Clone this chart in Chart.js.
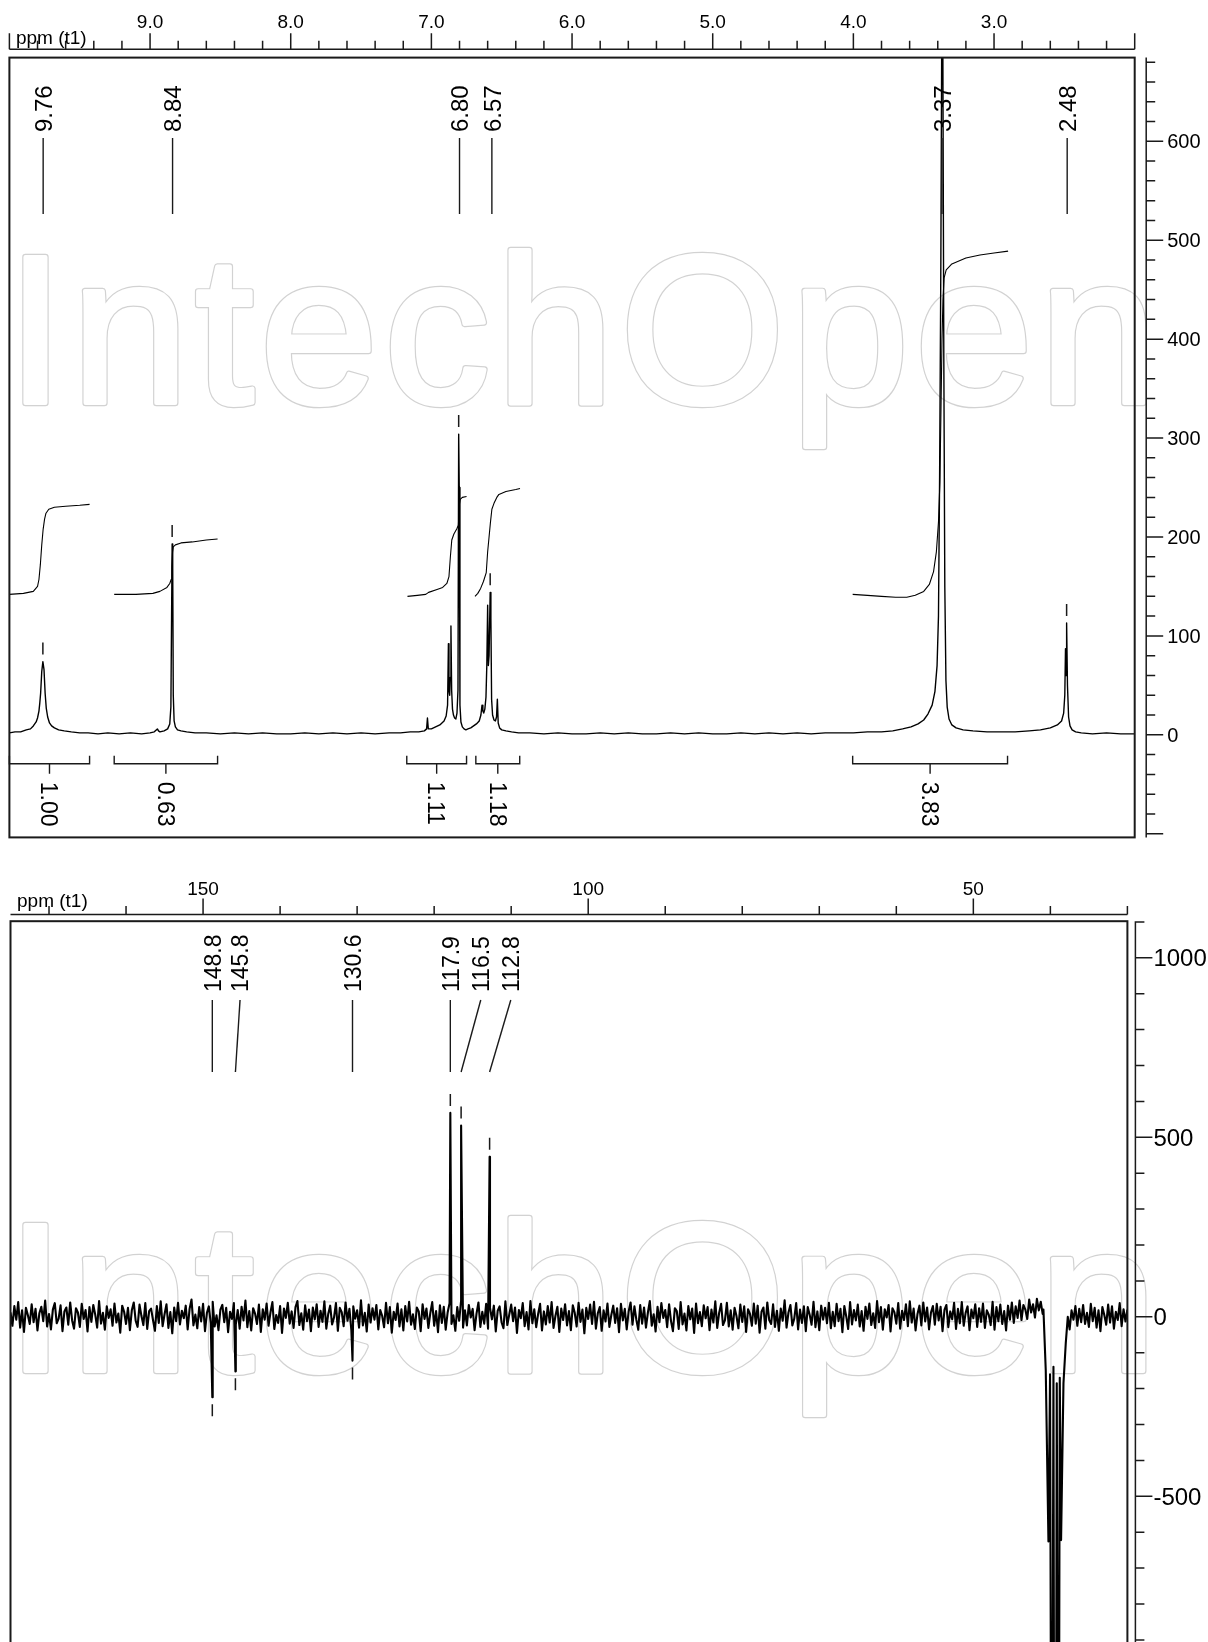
<!DOCTYPE html>
<html>
<head>
<meta charset="utf-8">
<script src="https://cdn.jsdelivr.net/npm/chart.js@4.4.1/dist/chart.umd.min.js"></script>
<style>
  html, body { margin: 0; padding: 0; background: #fff; overflow: hidden; }
  body { width: 1208px; height: 1642px; position: relative; }
  canvas { position: absolute; left: 0; }
  #h1 { top: 0; }
  #c13 { top: 880px; }
</style>
</head>
<body>
<canvas id="h1" width="1208" height="880"></canvas>
<canvas id="c13" width="1208" height="800"></canvas>
<script>
// ---------- 1H spectrum (ppm / intensity) ----------
const hPpm = [
  10.00, 9.96, 9.92, 9.88, 9.85, 9.83, 9.81, 9.80, 9.79, 9.784,
  9.778, 9.770, 9.762, 9.754, 9.746, 9.738, 9.728, 9.715, 9.70, 9.68,
  9.65, 9.61, 9.56, 9.50, 9.44, 9.37, 9.30, 9.22, 9.14, 9.06,
  9.00, 8.97, 8.948, 8.940, 8.93, 8.90, 8.875, 8.860, 8.852, 8.847,
  8.843, 8.839, 8.835, 8.829, 8.820, 8.805, 8.78, 8.74, 8.68, 8.60,
  8.50, 8.40, 8.30, 8.20, 8.10, 8.00, 7.90, 7.80, 7.70, 7.60,
  7.50, 7.40, 7.30, 7.22, 7.15, 7.09, 7.05, 7.034, 7.028, 7.022,
  7.00, 6.97, 6.94, 6.91, 6.895, 6.885, 6.879, 6.875, 6.870, 6.866,
  6.861, 6.856, 6.850, 6.843, 6.835, 6.826, 6.818, 6.811, 6.806, 6.802,
  6.797, 6.790, 6.780, 6.768, 6.755, 6.740, 6.720, 6.700, 6.680, 6.660,
  6.648, 6.640, 6.634, 6.628, 6.620, 6.612, 6.606, 6.600, 6.595, 6.590,
  6.582, 6.577, 6.572, 6.565, 6.555, 6.545, 6.537, 6.531, 6.525, 6.515,
  6.50, 6.47, 6.43, 6.38, 6.30, 6.20, 6.10, 6.00, 5.90, 5.80,
  5.70, 5.60, 5.50, 5.40, 5.30, 5.20, 5.10, 5.00, 4.90, 4.80,
  4.70, 4.60, 4.50, 4.40, 4.30, 4.20, 4.10, 4.00, 3.90, 3.80,
  3.72, 3.65, 3.59, 3.54, 3.50, 3.47, 3.44, 3.42, 3.405, 3.395,
  3.387, 3.378, 3.372, 3.368, 3.364, 3.357, 3.350, 3.342, 3.333, 3.320, 3.300,
  3.270, 3.220, 3.150, 3.05, 2.95, 2.85, 2.75, 2.67, 2.60, 2.55,
  2.52, 2.505, 2.497, 2.492, 2.488, 2.484, 2.478, 2.470, 2.460, 2.445,
  2.42, 2.38, 2.30, 2.20, 2.10, 2.00
];
const hInt = [
  2, 3, 3, 5, 6, 9, 13, 17, 24, 32,
  42, 64, 74, 66, 42, 27, 18, 12, 9, 7,
  5, 4, 3, 2, 2, 1, 2, 1, 2, 1,
  2, 3, 6, 4, 3, 4, 6, 11, 28, 120,
  193, 170, 40, 14, 8, 5, 4, 3, 2, 2,
  1, 2, 1, 2, 1, 1, 2, 1, 2, 1,
  2, 1, 2, 2, 3, 3, 4, 6, 17, 6,
  6, 8, 10, 14, 19, 30, 92, 45, 40, 58,
  110, 45, 26, 20, 17, 16, 22, 45, 304, 250,
  30, 13, 8, 6, 5, 6, 7, 9, 11, 14,
  20, 30, 24, 22, 26, 38, 70, 131, 70, 80,
  144, 118, 36, 20, 15, 14, 18, 36, 12, 7,
  5, 4, 3, 2, 2, 1, 2, 1, 1, 2,
  1, 2, 1, 1, 2, 1, 2, 1, 1, 2,
  1, 2, 1, 2, 1, 2, 2, 2, 3, 3,
  4, 6, 8, 11, 15, 21, 30, 44, 70, 120,
  260, 480, 700, 1800, 700, 380, 150, 55, 28, 16, 10,
  7, 5, 4, 3, 3, 3, 4, 5, 7, 10,
  14, 22, 40, 87, 60, 113, 50, 18, 9, 5,
  3, 2, 1, 2, 1, 1
];

// integral curves [ppm, value]
const hIntegral1 = [[10.0,142],[9.90,143],[9.83,145],[9.80,150],[9.79,157],[9.78,172],[9.77,192],[9.76,208],[9.75,218],[9.74,224],[9.72,228],[9.68,230],[9.60,231],[9.50,232],[9.43,233]];
const hIntegral2 = [[9.255,142],[9.10,142],[8.98,143],[8.93,145],[8.88,149],[8.86,153],[8.85,157],[8.845,170],[8.840,185],[8.835,190],[8.82,192],[8.78,194],[8.70,195],[8.60,197],[8.52,198]];
const hIntegral3 = [[7.17,140],[7.10,141],[7.04,142],[7.02,144],[6.96,147],[6.92,149],[6.89,153],[6.875,160],[6.865,180],[6.855,197],[6.84,203],[6.82,208],[6.808,212],[6.802,232],[6.795,238],[6.78,240],[6.75,241]];
const hIntegral4 = [[6.69,140],[6.67,143],[6.65,148],[6.63,155],[6.61,164],[6.60,185],[6.59,200],[6.58,215],[6.57,228],[6.555,234],[6.535,240],[6.52,243],[6.47,246],[6.40,248],[6.37,249]];
const hIntegral5 = [[4.005,142],[3.90,141],[3.80,140],[3.70,139],[3.62,139],[3.56,141],[3.50,145],[3.46,152],[3.43,165],[3.41,185],[3.395,215],[3.385,255],[3.378,320],[3.370,400],[3.363,440],[3.355,462],[3.34,470],[3.30,476],[3.20,482],[3.10,485],[3.00,487],[2.90,489]];

const hIntFrom = [10.0, 9.255, 7.175, 6.684, 4.005];
const hIntTo = [9.43, 8.52, 6.75, 6.372, 2.904];
const hIntLabels = ['1.00', '0.63', '1.11', '1.18', '3.83'];

const hPeakPpm = [9.76, 8.84, 6.80, 6.57, 3.37, 2.48];
const hPeakLabels = ['9.76', '8.84', '6.80', '6.57', '3.37', '2.48'];
const hMarkPpm = [9.762, 8.843, 6.806, 6.582, 2.484];
const hMarkInt = [74, 193, 304, 144, 113];

const hTickValues = [9, 8, 7, 6, 5, 4, 3];
const hTickLabels = ['9.0', '8.0', '7.0', '6.0', '5.0', '4.0', '3.0'];
const hYTicks = [0, 100, 200, 300, 400, 500, 600];
const hYLabels = ['0', '100', '200', '300', '400', '500', '600'];

// ---------- 13C DEPT spectrum ----------
const cStart = 175, cStep = 0.25;
const cNoise = [
  12,-25,30,-8,41,-30,18,-42,25,5,-20,35,-15,22,-38,10,28,-12,45,-27,
  8,-35,20,38,-18,-5,32,-40,15,26,-22,40,-10,-33,24,12,-28,36,-6,19,
  -41,27,-14,33,6,-30,44,-19,11,-36,29,-3,21,-25,37,-16,9,-44,31,14,
  -20,25,-37,18,40,-11,-28,34,2,-23,38,-34,16,23,-9,-39,30,-17,43,-26,
  7,35,-31,13,-46,26,-12,39,-21,17,-4,31,-35,22,48,-24,6,-32,27,-13,
  36,-40,11,29,-18,42,-27,4,-37,20,33,-15,25,-43,14,-6,38,-22,19,-33,
  28,-10,45,-29,16,-38,24,9,-20,34,-42,21,-8,37,-25,12,41,-34,5,-17,
  30,-45,23,-3,39,-19,15,-31,27,44,-23,10,-36,32,-12,20,-40,26,-7,35,
  -28,17,-14,43,-33,8,31,-21,-2,38,-39,25,13,-26,40,-11,22,-37,29,-5,
  18,-30,46,-24,11,-41,34,-16,24,-8,33,-35,19,3,-29,39,-18,27,-44,14,
  -9,37,-27,21,-38,30,-13,42,-22,7,-34,26,15,-40,35,-6,23,-31,10,41,
  -25,16,-43,32,-17,28,-36,12,38,-20,4,-39,27,-11,45,-30,18,-24,33,-2,
  22,-37,9,40,-28,14,-19,36,-33,25,-7,31,-41,17,29,-15,-32,43,-23,6,
  34,-12,26,-45,19,-4,38,-26,13,-35,44,-18,21,-29,8,36,-38,15,-21,30,
  -16,41,-31,3,28,-42,23,-9,35,-24,16,-37,32,11,-27,39,-14,20,-46,25,
  -6,34,-20,42,-33,10,27,-39,18,-13,37,-28,5,31,-17,24,-43,36,-10,22,
  -35,15,40,-22,29,-8,-36,33,-19,26,-30,12,44,-25,7,-41,28,-15,38,-3,
  19,-29,35,-12,-40,24,16,-34,41,-21,9,-38,30,-7,23,-45,37,-18,13,-26,
  32,-4,27,-37,20,-16,43,-31,11,36,-23,-10,39,-27,18,-36,25,2,-32,34,
  -14,29,-42,21,8,-25,37,-19,31,-44,14,26,-33,40,-9,-20,35,-28,17,-39,
  23,-11,46,-30,12,33,-24,-5,38,-35,20,-17,29,-40,27,6,-22,42,-29,15,
  -37,31,-8,25,-18,39,-32,14,-26,36,-12,22,-43,30,1,-34,41,-21,19,-10,
  34,-27,16,-39,28,-6,37,-23,10,-31,44,-15,27,-36,21,-2,33,-41,24,13,
  -19,38,-33,17,-9,35,-26,43,-16,23,-38,8,31,-24,40,-13,26,-35,12,30,
  -22,36,-10,28,-40,19,33,-29,15,-7,39,-34,22,-18,41,-25,11,29,-37,20,
  -4,35,-28,24,-14,37,-31,18,6,-23,42,-36,27,-12,34,-20,16,-38,31,-8,
  40,-17,29,-3,45,-9,33,20,-6,48,12,35,-2,50,18,42,8,55,25,38,
  10,5,8,0,12,6,-4,15,-10,20,-35,18,-8,30,-25,22,-15,33,-20,11,
  -28,36,-12,25,-30,18,-40,27,5,-22,34,-16,29,-33,14,-9,38,-26,21,-13,
  20
];
const cPeakPpm = [148.8, 145.8, 130.6, 117.9, 116.5, 112.8];
const cPeakInt = [-224, -152, -122, 568, 533, 446];
const cPeakLabels = ['148.8', '145.8', '130.6', '117.9', '116.5', '112.8'];
const cLabelPpm = [148.8, 145.2, 130.6, 117.9, 113.95, 110.05];

// DMSO-d6 multiplet
const cSolventPpm = [40.9, 40.6, 40.25, 40.04, 39.82, 39.6, 39.39, 39.17, 38.95, 38.78, 38.61, 38.3, 38.0, 37.74];
const cSolventInt = [20, -148, -626, -160, -2000, -139, -3000, -185, -2000, -170, -622, -185, -73, 0];

const cTickValues = [150, 100, 50];
const cTickLabels = ['150', '100', '50'];
const cYTicks = [1000, 500, 0, -500];
const cYLabels = ['1000', '500', '0', '-500'];

// ---------- drawing helpers ----------
const FONT = "'Liberation Sans', Arial, sans-serif";
const INK = '#1a1a1a';
Chart.defaults.font.family = FONT;

// outlined watermark, slightly emboldened by stroking a white core inside a grey ring
function drawWatermark(ctx, left, baseline, width) {
  const text = 'IntechOpen';
  const grow = 2.1;
  ctx.save();
  ctx.font = `212px ${FONT}`;
  ctx.letterSpacing = '0px';
  const m = ctx.measureText(text);
  const ink = m.actualBoundingBoxLeft + m.actualBoundingBoxRight;
  ctx.letterSpacing = ((width - 2 * grow - ink) / 9) + 'px';
  const x = left + grow + m.actualBoundingBoxLeft;
  ctx.lineJoin = 'round';
  ctx.strokeStyle = '#d2d2d2';
  ctx.lineWidth = 2 * grow + 2.4;
  ctx.strokeText(text, x, baseline);
  ctx.strokeStyle = '#fff';
  ctx.lineWidth = 2 * grow;
  ctx.strokeText(text, x, baseline);
  ctx.fillStyle = '#fff';
  ctx.fillText(text, x, baseline);
  ctx.restore();
}

function drawTopAxis(chart, o) {
  const {ctx, chartArea: a, scales: {x}} = chart;
  const y0 = a.top - o.gap;
  ctx.save();
  ctx.strokeStyle = INK;
  ctx.lineWidth = 1.5;
  ctx.beginPath();
  ctx.moveTo(a.left, y0);
  ctx.lineTo(a.right, y0);
  const n = Math.round((o.hi - o.lo) / o.minor);
  for (let i = 0; i <= n; i++) {
    const v = o.lo + i * o.minor;
    const major = Math.abs(v / o.major - Math.round(v / o.major)) < 1e-6;
    const px = x.getPixelForValue(v);
    ctx.moveTo(px, y0);
    ctx.lineTo(px, y0 - (major ? 16 : 8.5));
  }
  ctx.stroke();
  ctx.fillStyle = '#000';
  ctx.font = `19px ${FONT}`;
  ctx.textAlign = 'center';
  ctx.textBaseline = 'alphabetic';
  o.values.forEach((v, i) => ctx.fillText(o.labels[i], x.getPixelForValue(v), y0 - o.labelLift));
  ctx.textAlign = 'left';
  ctx.fillText('ppm (t1)', a.left + 6.5, y0 - o.unitLift);
  ctx.restore();
}

function drawRightAxis(chart, o) {
  const {ctx, chartArea: a, scales: {y}} = chart;
  const x0 = a.right + o.gap;
  ctx.save();
  ctx.strokeStyle = INK;
  ctx.lineWidth = 1.5;
  ctx.beginPath();
  ctx.moveTo(x0, a.top);
  ctx.lineTo(x0, a.bottom);
  const n = Math.round((o.hi - o.lo) / o.minor);
  for (let i = 0; i <= n; i++) {
    const v = o.lo + i * o.minor;
    const major = Math.abs(v / o.major - Math.round(v / o.major)) < 1e-6;
    const py = y.getPixelForValue(v);
    ctx.moveTo(x0, py);
    ctx.lineTo(x0 + (major ? 17 : 9), py);
  }
  ctx.stroke();
  ctx.fillStyle = '#000';
  ctx.font = `${o.size}px ${FONT}`;
  ctx.textAlign = 'left';
  ctx.textBaseline = 'alphabetic';
  o.values.forEach((v, i) => ctx.fillText(o.labels[i], x0 + o.labelGap, y.getPixelForValue(v) + o.size * 0.36));
  ctx.restore();
}

function drawMarks(chart, ppms, ints) {
  const {ctx, scales: {x, y}} = chart;
  ctx.save();
  ctx.strokeStyle = INK;
  ctx.lineWidth = 1.5;
  ctx.beginPath();
  ppms.forEach((p, i) => {
    const px = x.getPixelForValue(p);
    const py = y.getPixelForValue(ints[i]);
    const dir = ints[i] > 0 ? -1 : 1;
    ctx.moveTo(px, py + dir * 7);
    ctx.lineTo(px, py + dir * 19);
  });
  ctx.stroke();
  ctx.restore();
}

function drawPeakLabels(chart, o) {
  const {ctx, chartArea: a, scales: {x}} = chart;
  ctx.save();
  ctx.font = `${o.size}px ${FONT}`;
  ctx.fillStyle = '#000';
  ctx.strokeStyle = INK;
  ctx.lineWidth = 1.4;
  o.ppm.forEach((p, i) => {
    const xt = x.getPixelForValue(o.labelPpm[i]);
    const xb = x.getPixelForValue(p);
    ctx.save();
    ctx.translate(xt, a.top + o.textBottom);
    ctx.rotate(-Math.PI / 2);
    ctx.textAlign = 'left';
    ctx.textBaseline = 'alphabetic';
    ctx.fillText(o.labels[i], 0, o.size * 0.36);
    ctx.restore();
    ctx.beginPath();
    ctx.moveTo(xt, a.top + o.lineTop);
    ctx.lineTo(xb, a.top + o.lineBottom);
    ctx.stroke();
  });
  ctx.restore();
}

function drawIntegrals(chart) {
  const {ctx, scales: {x, y}} = chart;
  const base = y.getPixelForValue(0);
  const yl = base + 29;
  ctx.save();
  ctx.strokeStyle = INK;
  ctx.lineWidth = 1.4;
  ctx.fillStyle = '#000';
  ctx.font = `23px ${FONT}`;
  hIntFrom.forEach((f, i) => {
    const x1 = x.getPixelForValue(f);
    const x2 = x.getPixelForValue(hIntTo[i]);
    const xc = (x1 + x2) / 2;
    ctx.beginPath();
    ctx.moveTo(x1, base + 21);
    ctx.lineTo(x1, yl);
    ctx.lineTo(x2, yl);
    ctx.lineTo(x2, base + 21);
    ctx.moveTo(xc, yl);
    ctx.lineTo(xc, base + 39);
    ctx.stroke();
    ctx.save();
    ctx.translate(xc, base + 47);
    ctx.rotate(Math.PI / 2);
    ctx.fillText(hIntLabels[i], 0, 23 * 0.36);
    ctx.restore();
  });
  ctx.restore();
}

function decorPlugin(o) {
  return {
    id: 'decor',
    beforeDatasetsDraw(chart) {
      drawWatermark(chart.ctx, 23, o.wmBaseline, 1123);
    },
    afterDatasetsDraw(chart) {
      const {ctx, chartArea: a} = chart;
      ctx.save();
      ctx.strokeStyle = INK;
      ctx.lineWidth = 2;
      ctx.strokeRect(a.left, a.top, a.right - a.left, a.bottom - a.top);
      ctx.restore();
      drawTopAxis(chart, o.xAxis);
      drawRightAxis(chart, o.yAxis);
      drawMarks(chart, o.markPpm, o.markInt);
      drawPeakLabels(chart, o.peaks);
      if (o.integrals) drawIntegrals(chart);
    }
  };
}

const trace = (data, width) => ({
  data,
  showLine: true,
  borderColor: '#000',
  borderWidth: width,
  pointRadius: 0,
  tension: 0,
  fill: false,
  borderJoinStyle: 'round'
});

const baseOptions = (padding, xr, yr) => ({
  animation: false,
  responsive: false,
  events: [],
  layout: { padding },
  scales: {
    x: { type: 'linear', reverse: true, min: xr[0], max: xr[1], display: false },
    y: { type: 'linear', min: yr[0], max: yr[1], display: false }
  },
  plugins: { legend: { display: false }, tooltip: { enabled: false } }
});

// ---------- 1H chart ----------
const hTrace = hPpm.map((p, i) => ({ x: p, y: hInt[i] }));
const toXY = arr => arr.map(([p, v]) => ({ x: p, y: v }));

new Chart(document.getElementById('h1'), {
  type: 'scatter',
  data: {
    datasets: [
      trace(hTrace, 1.4),
      trace(toXY(hIntegral1), 1.1),
      trace(toXY(hIntegral2), 1.1),
      trace(toXY(hIntegral3), 1.1),
      trace(toXY(hIntegral4), 1.1),
      trace(toXY(hIntegral5), 1.1)
    ]
  },
  options: baseOptions({ left: 9.4, top: 57.6, right: 73.3, bottom: 42.6 }, [2, 10], [-103.7, 684.6]),
  plugins: [decorPlugin({
    wmBaseline: 403,
    xAxis: { gap: 8.3, lo: 2, hi: 10, minor: 0.2, major: 1, values: hTickValues, labels: hTickLabels, labelLift: 21, unitLift: 5 },
    yAxis: { gap: 11.5, lo: -100, hi: 680, minor: 20, major: 100, values: hYTicks, labels: hYLabels, size: 20, labelGap: 21 },
    markPpm: hMarkPpm,
    markInt: hMarkInt,
    peaks: { ppm: hPeakPpm, labelPpm: hPeakPpm, labels: hPeakLabels, size: 24, textBottom: 74.4, lineTop: 80.4, lineBottom: 156.4 },
    integrals: true
  })]
});

// ---------- 13C chart ----------
const cTrace = [];
cNoise.forEach((v, i) => {
  const p = cStart - i * cStep;
  if (p < 40.95 && p > 37.7) return; // solvent multiplet has its own points
  cTrace.push({ x: p, y: v });
});
cPeakPpm.forEach((p, i) => cTrace.push({ x: p, y: cPeakInt[i] }));
cSolventPpm.forEach((p, i) => cTrace.push({ x: p, y: cSolventInt[i] }));
cTrace.sort((a, b) => b.x - a.x);

new Chart(document.getElementById('c13'), {
  type: 'scatter',
  data: { datasets: [trace(cTrace, 2.1)] },
  options: baseOptions({ left: 10.5, top: 41.2, right: 80.6, bottom: 20 }, [30, 175], [-956, 1102]),
  plugins: [decorPlugin({
    wmBaseline: 491,
    xAxis: { gap: 6.7, lo: 30, hi: 170, minor: 10, major: 50, values: cTickValues, labels: cTickLabels, labelLift: 19.5, unitLift: 8 },
    yAxis: { gap: 8, lo: -900, hi: 1100, minor: 100, major: 500, values: cYTicks, labels: cYLabels, size: 24, labelGap: 18 },
    markPpm: cPeakPpm,
    markInt: cPeakInt,
    peaks: { ppm: cPeakPpm, labelPpm: cLabelPpm, labels: cPeakLabels, size: 23, textBottom: 70.8, lineTop: 78.8, lineBottom: 150.8 },
    integrals: false
  })]
});
</script>
</body>
</html>
